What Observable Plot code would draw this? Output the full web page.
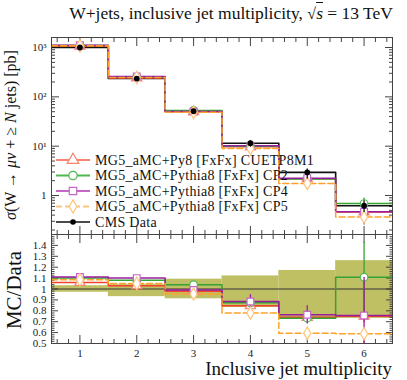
<!DOCTYPE html>
<html>
<head>
<meta charset="utf-8">
<script src="https://cdn.jsdelivr.net/npm/d3@7"></script>
<script src="https://cdn.jsdelivr.net/npm/@observablehq/plot@0.6"></script>
<style>
  html, body { margin: 0; padding: 0; background: #fff; }
  #wrap { position: relative; width: 407px; height: 380px; background: #fff; font-family: "Liberation Serif", serif; overflow: hidden; }
  #title { position: absolute; left: 0; width: 393px; top: 3px; text-align: right; font-size: 17.5px; color: #111; white-space: nowrap; }
  #top { position: absolute; left: 0; top: 30px; }
  #bot { position: absolute; left: 0; top: 234px; }
  #overlay { position: absolute; left: 0; top: 0; pointer-events: none; }
  svg { overflow: visible; }
  #top svg text, #bot svg text { font-family: "Liberation Serif", serif !important; }
</style>
</head>
<body>
<div id="wrap">
  <div id="title">W+jets, inclusive jet multiplicity, <span style="font-size:16px">√</span><span style="font-style:italic;text-decoration:overline">s</span> = 13 TeV</div>
  <div id="top"></div>
  <div id="bot"></div>
</div>
<script>
// ---------- data ----------
const bins = [1, 2, 3, 4, 5, 6];
const xTickLabels = ["1", "2", "3", "4", "5", "6"];
const cmsData = [1000, 235, 51, 11.5, 2.95, 0.62];
const bandLow = [0.97, 0.93, 0.91, 0.83, 0.73, 0.73];
const bandHigh = [1.03, 1.04, 1.09, 1.12, 1.17, 1.26];

const xsCUETP8M1 = [1060, 242, 50, 9.7, 2.18, 0.465];
const xsCP2 = [1100, 254, 53, 10.0, 2.16, 0.687];
const xsCP4 = [1110, 259, 50.5, 10.2, 2.25, 0.469];
const xsCP5 = [1085, 247, 48.7, 9.0, 1.76, 0.365];

const ratioCUETP8M1 = [1.06, 1.03, 0.98, 0.846, 0.74, 0.75];
const ratioCP2 = [1.10, 1.08, 1.04, 0.873, 0.732, 1.108];
const ratioCP4 = [1.11, 1.10, 0.99, 0.885, 0.763, 0.757];
const ratioCP5 = [1.085, 1.05, 0.955, 0.78, 0.595, 0.589];

const relErrCUETP8M1 = [0.01, 0.01, 0.015, 0.03, 0.05, 0.08];
const relErrCP2 = [0.01, 0.01, 0.02, 0.03, 0.05, 0.29];
const relErrCP4 = [0.01, 0.015, 0.02, 0.07, 0.11, 0.46];
const relErrCP5 = [0.01, 0.01, 0.02, 0.02, 0.04, 0.06];

const seriesNames = ["MG5_aMC+Py8 [FxFx] CUETP8M1", "MG5_aMC+Pythia8 [FxFx] CP2", "MG5_aMC+Pythia8 [FxFx] CP4", "MG5_aMC+Pythia8 [FxFx] CP5"];
const dataName = "CMS Data";
const logTickLabels = {1: "1", 10: "10¹", 100: "10²", 1000: "10³"};

// ---------- styles ----------
const series = [
  {name: seriesNames[0], xs: xsCUETP8M1, ratio: ratioCUETP8M1, err: relErrCUETP8M1, line: "#f2412b", mark: "#f5836f", symbol: "triangle", dash: null},
  {name: seriesNames[1], xs: xsCP2, ratio: ratioCP2, err: relErrCP2, line: "#33a333", mark: "#4fb84f", symbol: "circle", dash: null},
  {name: seriesNames[2], xs: xsCP4, ratio: ratioCP4, err: relErrCP4, line: "#9a1c9e", mark: "#c467c8", symbol: "square", dash: null},
  {name: seriesNames[3], xs: xsCP5, ratio: ratioCP5, err: relErrCP5, line: "#ffa128", mark: "#ffc37a", symbol: "diamond", dash: "6,3"}
];
const frameColor = "#444";
const font = '"Liberation Serif", serif';

function stepPoints(vals) {
  const pts = bins.map((b, i) => ({x: b - 0.5, y: vals[i]}));
  pts.push({x: bins[bins.length - 1] + 0.5, y: vals[vals.length - 1]});
  return pts;
}

const xMinor = d3.range(0.6, 6.45, 0.2).filter(v => Math.abs(v - Math.round(v)) > 1e-6);
const blank = () => "";

function xTicks(anchor, size) {
  return [
    Plot.axisX({anchor, ticks: bins, tickSize: -size, tickFormat: blank, label: null, stroke: frameColor}),
    Plot.axisX({anchor, ticks: xMinor, tickSize: -size / 2, tickFormat: blank, label: null, stroke: frameColor})
  ];
}

// ---------- top panel ----------
const yDomain = [0.162, 1596];
const logMajor = [1, 10, 100, 1000];
const logMinor = [];
[0.1, 1, 10, 100, 1000].forEach(dec => { for (let k = 2; k <= 9; k++) { const v = k * dec; if (v > yDomain[0] && v < yDomain[1]) logMinor.push(v); } });

const topMarks = [
  ...xTicks("top", 8),
  ...xTicks("bottom", 8),
  Plot.axisY({anchor: "left", ticks: logMajor, tickSize: -8, tickPadding: 13, tickFormat: d => logTickLabels[d], label: null, stroke: frameColor, fontSize: 11}),
  Plot.axisY({anchor: "left", ticks: logMinor, tickSize: -4, tickFormat: blank, label: null, stroke: frameColor}),
  Plot.axisY({anchor: "right", ticks: logMajor, tickSize: -8, tickFormat: blank, label: null, stroke: frameColor}),
  Plot.axisY({anchor: "right", ticks: logMinor, tickSize: -4, tickFormat: blank, label: null, stroke: frameColor}),
  Plot.line(stepPoints(cmsData), {x: "x", y: "y", curve: "step-after", stroke: "#111", strokeWidth: 1.6, clip: true})
];
series.forEach(s => {
  topMarks.push(Plot.line(stepPoints(s.xs), {x: "x", y: "y", curve: "step-after", stroke: s.line, strokeWidth: 1.5, strokeDasharray: s.dash, clip: true}));
});
series.forEach(s => {
  const pts = bins.map((b, i) => ({x: b, y: s.xs[i], lo: s.xs[i] * (1 - s.err[i]), hi: s.xs[i] * (1 + s.err[i])}));
  topMarks.push(Plot.ruleX(pts, {x: "x", y1: "lo", y2: "hi", stroke: s.line, strokeWidth: 1.3, clip: true}));
  topMarks.push(Plot.dot(pts, {x: "x", y: "y", symbol: s.symbol, r: 3.8, fill: "white", stroke: s.mark, strokeWidth: 1.2, clip: true}));
});
const dataPts = bins.map((b, i) => ({x: b, y: cmsData[i], lo: cmsData[i] * bandLow[i], hi: cmsData[i] * bandHigh[i]}));
topMarks.push(Plot.ruleX(dataPts, {x: "x", y1: "lo", y2: "hi", stroke: "#111", strokeWidth: 1.3, clip: true}));
topMarks.push(Plot.dot(dataPts, {x: "x", y: "y", r: 2.9, fill: "#000", stroke: "none"}));
topMarks.push(Plot.frame({stroke: frameColor, strokeWidth: 1}));

const topPlot = Plot.plot({
  width: 407, height: 204,
  marginLeft: 51, marginRight: 15, marginTop: 7, marginBottom: 0,
  style: {fontFamily: font, fontSize: "11px", background: "transparent", overflow: "visible", color: "#222"},
  x: {domain: [0.5, 6.5]},
  y: {type: "log", domain: yDomain},
  marks: topMarks
});
document.getElementById("top").appendChild(topPlot);

// ---------- ratio panel ----------
const rMajor = [0.5, 0.6, 0.7, 0.8, 0.9, 1.0, 1.1, 1.2, 1.3, 1.4];
const rMinor = d3.range(0.52, 1.5, 0.02).filter(v => Math.abs(v * 10 - Math.round(v * 10)) > 1e-6);
const rFmt = d => (Math.abs(d - 1) < 1e-9 ? "1" : d3.format(".1f")(d));

const band = bins.map((b, i) => ({x1: b - 0.5, x2: b + 0.5, y1: bandLow[i], y2: bandHigh[i]}));
const botMarks = [
  Plot.rect(band, {x1: "x1", x2: "x2", y1: "y1", y2: "y2", fill: "#bcbc5c", fillOpacity: 0.95, clip: true}),
  ...xTicks("top", 8),
  ...xTicks("bottom", 8),
  Plot.axisX({anchor: "bottom", ticks: bins, tickSize: 0, tickPadding: 6, tickFormat: d => xTickLabels[d - 1], label: null, fontSize: 11}),
  Plot.axisY({anchor: "left", ticks: rMajor, tickSize: -7, tickPadding: 12, tickFormat: rFmt, label: null, stroke: frameColor, fontSize: 11}),
  Plot.axisY({anchor: "left", ticks: rMinor, tickSize: -3.5, tickFormat: blank, label: null, stroke: frameColor}),
  Plot.axisY({anchor: "right", ticks: rMajor, tickSize: -7, tickFormat: blank, label: null, stroke: frameColor}),
  Plot.axisY({anchor: "right", ticks: rMinor, tickSize: -3.5, tickFormat: blank, label: null, stroke: frameColor}),
  Plot.ruleY([1], {stroke: "#333", strokeWidth: 1})
];
series.forEach(s => {
  botMarks.push(Plot.line(stepPoints(s.ratio), {x: "x", y: "y", curve: "step-after", stroke: s.line, strokeWidth: 1.5, strokeDasharray: s.dash, clip: true}));
});
series.forEach(s => {
  const pts = bins.map((b, i) => ({x: b, y: s.ratio[i], lo: s.ratio[i] * (1 - s.err[i]), hi: s.ratio[i] * (1 + s.err[i])}));
  botMarks.push(Plot.ruleX(pts, {x: "x", y1: "lo", y2: "hi", stroke: s.line, strokeWidth: 1.3, clip: true}));
  botMarks.push(Plot.dot(pts, {x: "x", y: "y", symbol: s.symbol, r: 3.8, fill: "white", stroke: s.mark, strokeWidth: 1.2, clip: true}));
});
botMarks.push(Plot.frame({stroke: frameColor, strokeWidth: 1}));

const botPlot = Plot.plot({
  width: 407, height: 146,
  marginLeft: 51, marginRight: 15, marginTop: 0, marginBottom: 37,
  style: {fontFamily: font, fontSize: "11px", background: "transparent", overflow: "visible", color: "#222"},
  x: {domain: [0.5, 6.5]},
  y: {domain: [0.5, 1.5]},
  marks: botMarks
});
document.getElementById("bot").appendChild(botPlot);

// ---------- overlay: axis titles and legend ----------
const ov = d3.select("#wrap").append("svg").attr("id", "overlay").attr("width", 407).attr("height", 380)
  .style("font-family", font).attr("fill", "#111");

const yl = ov.append("text").attr("transform", "translate(16,135) rotate(-90)").attr("text-anchor", "middle").attr("font-size", 16);
yl.append("tspan").attr("font-style", "italic").text("σ");
yl.append("tspan").text("(W → ");
yl.append("tspan").attr("font-style", "italic").text("μν");
yl.append("tspan").text(" + ≥ ");
yl.append("tspan").attr("font-style", "italic").text("N");
yl.append("tspan").text(" jets) [pb]");

ov.append("text").attr("transform", "translate(21,290) rotate(-90)").attr("text-anchor", "middle").attr("font-size", 21).text("MC/Data");
ov.append("text").attr("x", 392).attr("y", 375).attr("text-anchor", "end").attr("font-size", 19).text("Inclusive jet multiplicity");

const legRows = [160, 175.5, 191, 206.5, 222];
const symMap = {triangle: d3.symbolTriangle, circle: d3.symbolCircle, square: d3.symbolSquare, diamond: d3.symbolDiamond};
const symSize = {triangle: 60, circle: 55, square: 55, diamond: 50};
series.forEach((s, i) => {
  const y = legRows[i];
  ov.append("line").attr("x1", 56).attr("x2", 90).attr("y1", y).attr("y2", y)
    .attr("stroke", s.mark).attr("stroke-width", 1.8).attr("stroke-dasharray", s.dash);
  ov.append("path").attr("d", d3.symbol(symMap[s.symbol], symSize[s.symbol])())
    .attr("transform", `translate(73,${y})`).attr("fill", "white").attr("stroke", s.mark).attr("stroke-width", 1.2);
  ov.append("text").attr("x", 95).attr("y", y).attr("dy", "0.35em").attr("font-size", 14).attr("letter-spacing", 0.3).text(s.name);
});
{
  const y = legRows[4];
  ov.append("line").attr("x1", 56).attr("x2", 90).attr("y1", y).attr("y2", y).attr("stroke", "#111").attr("stroke-width", 1.5);
  ov.append("circle").attr("cx", 73).attr("cy", y).attr("r", 2.8).attr("fill", "#000");
  ov.append("text").attr("x", 95).attr("y", y).attr("dy", "0.35em").attr("font-size", 14).attr("letter-spacing", 0.3).text(dataName);
}
</script>
</body>
</html>
